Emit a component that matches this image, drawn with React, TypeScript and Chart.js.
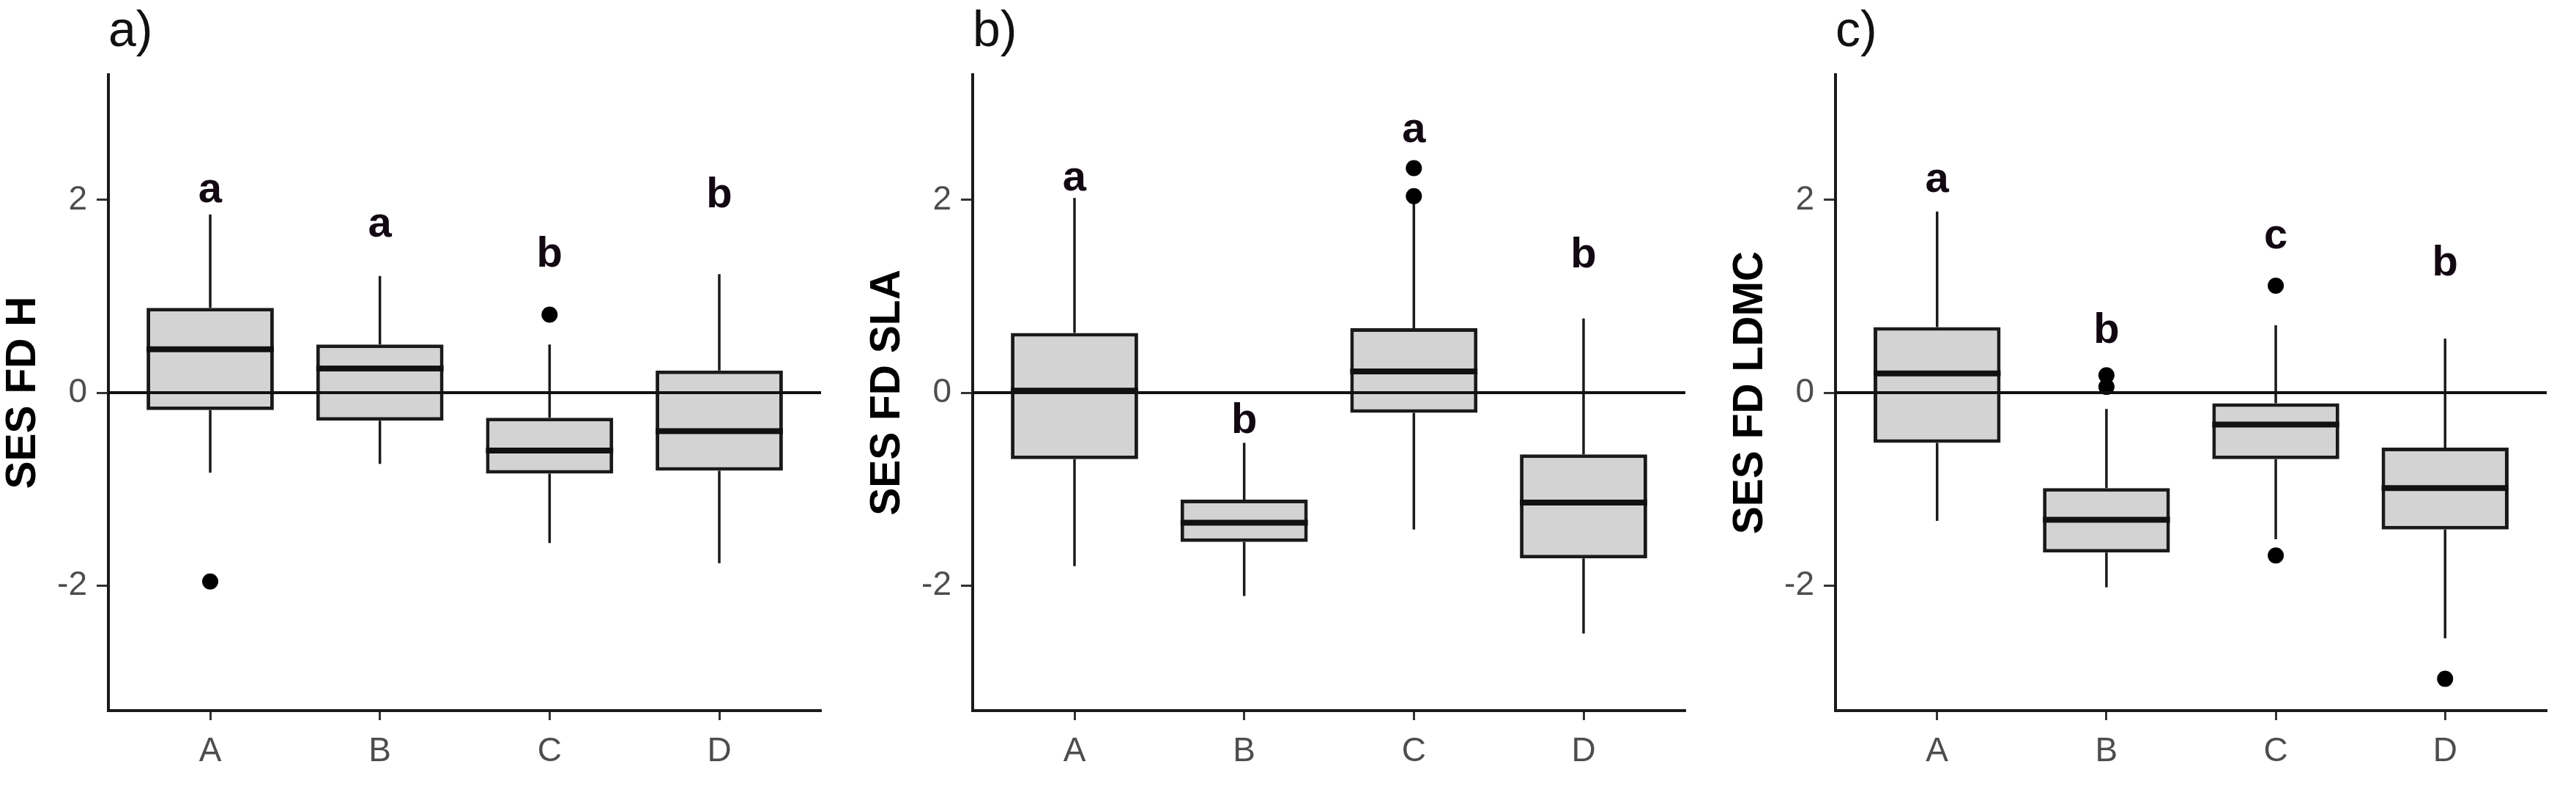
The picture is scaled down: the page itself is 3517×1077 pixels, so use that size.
import React, { useEffect, useRef } from 'react';
import { Chart, registerables } from 'chart.js';

Chart.register(...registerables);

// ---------- data ----------
const categories = ['A', 'B', 'C', 'D'];
const yTickValues = [-2, 0, 2];
const panelTitles = ['a)', 'b)', 'c)'];
const yAxisTitles = ['SES FD H', 'SES FD SLA', 'SES FD LDMC'];

// Panel a) SES FD H
const hWhiskerLow = [-0.83, -0.74, -1.56, -1.77];
const hQ1 = [-0.18, -0.29, -0.84, -0.81];
const hMedian = [0.45, 0.25, -0.6, -0.4];
const hQ3 = [0.88, 0.5, -0.26, 0.23];
const hWhiskerHigh = [1.85, 1.21, 0.5, 1.23];
const hOutlierGroup = ['A', 'C'];
const hOutlierValue = [-1.96, 0.81];
const hLetters = ['a', 'a', 'b', 'b'];
const hLetterY = [1.98, 1.62, 1.31, 1.92];

// Panel b) SES FD SLA
const slaWhiskerLow = [-1.8, -2.11, -1.42, -2.5];
const slaQ1 = [-0.69, -1.55, -0.21, -1.72];
const slaMedian = [0.02, -1.35, 0.22, -1.14];
const slaQ3 = [0.62, -1.11, 0.67, -0.64];
const slaWhiskerHigh = [2.02, -0.52, 1.98, 0.77];
const slaOutlierGroup = ['C', 'C'];
const slaOutlierValue = [2.33, 2.04];
const slaLetters = ['a', 'b', 'a', 'b'];
const slaLetterY = [2.1, -0.42, 2.6, 1.3];

// Panel c) SES FD LDMC
const ldmcWhiskerLow = [-1.33, -2.02, -1.52, -2.55];
const ldmcQ1 = [-0.52, -1.66, -0.69, -1.42];
const ldmcMedian = [0.2, -1.32, -0.33, -0.99];
const ldmcQ3 = [0.68, -0.99, -0.11, -0.57];
const ldmcWhiskerHigh = [1.88, -0.17, 0.7, 0.56];
const ldmcOutlierGroup = ['B', 'B', 'C', 'C', 'D'];
const ldmcOutlierValue = [0.18, 0.06, 1.11, -1.69, -2.97];
const ldmcLetters = ['a', 'b', 'c', 'b'];
const ldmcLetterY = [2.08, 0.52, 1.5, 1.22];

const panels = [
  { title: panelTitles[0], yTitle: yAxisTitles[0], lo: hWhiskerLow, q1: hQ1, med: hMedian, q3: hQ3, hi: hWhiskerHigh, og: hOutlierGroup, ov: hOutlierValue, letters: hLetters, letterY: hLetterY },
  { title: panelTitles[1], yTitle: yAxisTitles[1], lo: slaWhiskerLow, q1: slaQ1, med: slaMedian, q3: slaQ3, hi: slaWhiskerHigh, og: slaOutlierGroup, ov: slaOutlierValue, letters: slaLetters, letterY: slaLetterY },
  { title: panelTitles[2], yTitle: yAxisTitles[2], lo: ldmcWhiskerLow, q1: ldmcQ1, med: ldmcMedian, q3: ldmcQ3, hi: ldmcWhiskerHigh, og: ldmcOutlierGroup, ov: ldmcOutlierValue, letters: ldmcLetters, letterY: ldmcLetterY },
];

// ---------- layout ----------
const FONT = "'Liberation Sans', Arial, Helvetica, sans-serif";
const PAGE_W = 3517;
const PAGE_H = 1077;
const Y_AXIS_W = 148;
const X_AXIS_H = 107;
const PLOT_TOP = 102;
const RIGHT_PAD = 40;
const plotLefts = [148, 1328, 2506];
const plotWidths = [973, 973, 971];

function Panel({ spec, left, plotWidth }: any) {
  const ref = useRef<HTMLCanvasElement | null>(null);
  const width = Y_AXIS_W + plotWidth + RIGHT_PAD;

  useEffect(() => {
    const canvas = ref.current;
    if (!canvas) return;
    const idx = (g: string) => categories.indexOf(g) + 1;

    const extras = {
      id: 'boxExtras',
      beforeDatasetsDraw(chart: any) {
        const { ctx } = chart;
        const xs = chart.scales.x;
        const ys = chart.scales.y;
        ctx.save();
        ctx.strokeStyle = '#1a1a1a';
        ctx.lineWidth = 3.5;
        categories.forEach((_c, i) => {
          const x = xs.getPixelForValue(i + 1);
          ctx.beginPath();
          ctx.moveTo(x, ys.getPixelForValue(spec.q3[i]));
          ctx.lineTo(x, ys.getPixelForValue(spec.hi[i]));
          ctx.moveTo(x, ys.getPixelForValue(spec.q1[i]));
          ctx.lineTo(x, ys.getPixelForValue(spec.lo[i]));
          ctx.stroke();
        });
        ctx.restore();
      },
      afterDatasetsDraw(chart: any) {
        const { ctx, chartArea } = chart;
        const xs = chart.scales.x;
        const ys = chart.scales.y;
        const bars = chart.getDatasetMeta(0).data;
        ctx.save();
        // medians
        ctx.strokeStyle = '#111';
        ctx.lineWidth = 8;
        ctx.lineCap = 'butt';
        bars.forEach((el: any, i: number) => {
          const y = ys.getPixelForValue(spec.med[i]);
          ctx.beginPath();
          ctx.moveTo(el.x - el.width / 2, y);
          ctx.lineTo(el.x + el.width / 2, y);
          ctx.stroke();
        });
        // zero reference line
        const y0 = ys.getPixelForValue(0);
        ctx.strokeStyle = '#111';
        ctx.lineWidth = 4;
        ctx.beginPath();
        ctx.moveTo(chartArea.left, y0);
        ctx.lineTo(chartArea.right, y0);
        ctx.stroke();
        // significance letters
        ctx.fillStyle = '#120812';
        ctx.font = `bold 58px ${FONT}`;
        ctx.textAlign = 'center';
        ctx.textBaseline = 'alphabetic';
        categories.forEach((_c, i) => {
          ctx.fillText(spec.letters[i], xs.getPixelForValue(i + 1), ys.getPixelForValue(spec.letterY[i]));
        });
        ctx.restore();
      },
      afterDraw(chart: any) {
        const { ctx, chartArea } = chart;
        ctx.save();
        ctx.fillStyle = '#111';
        ctx.font = `68px ${FONT}`;
        ctx.textAlign = 'left';
        ctx.textBaseline = 'alphabetic';
        ctx.fillText(spec.title, chartArea.left, 63);
        ctx.restore();
      },
    };

    const chart = new Chart(canvas, {
      type: 'bar',
      data: {
        datasets: [
          {
            type: 'bar',
            data: categories.map((_c, i) => ({ x: i + 1, y: [spec.q1[i], spec.q3[i]] })),
            backgroundColor: '#d3d3d3',
            borderColor: '#1a1a1a',
            borderWidth: 5,
            borderSkipped: false,
            barPercentage: 0.75,
            categoryPercentage: 1,
          } as any,
          {
            type: 'scatter',
            data: spec.og.map((g: string, k: number) => ({ x: idx(g), y: spec.ov[k] })),
            pointRadius: 11,
            pointBackgroundColor: '#000',
            pointBorderWidth: 0,
            showLine: false,
          } as any,
        ],
      },
      options: {
        responsive: false,
        animation: false,
        events: [],
        layout: { padding: { top: PLOT_TOP, right: RIGHT_PAD, left: 0, bottom: 0 } },
        plugins: { legend: { display: false }, tooltip: { enabled: false }, title: { display: false } },
        scales: {
          x: {
            type: 'linear',
            min: 0.4,
            max: 4.6,
            offset: false,
            afterBuildTicks: (s: any) => {
              s.ticks = categories.map((_c, i) => ({ value: i + 1 }));
            },
            afterFit: (s: any) => {
              s.height = X_AXIS_H;
            },
            grid: {
              display: true,
              drawOnChartArea: false,
              drawTicks: true,
              tickLength: 13,
              tickWidth: 3,
              tickColor: '#333',
              offset: false,
            },
            border: { display: true, color: '#1a1a1a', width: 4 },
            ticks: {
              autoSkip: false,
              maxRotation: 0,
              padding: 16,
              color: '#4d4d4d',
              font: { family: FONT, size: 46 },
              callback: (v: any) => categories[Math.round(Number(v)) - 1] ?? '',
            },
          },
          y: {
            type: 'linear',
            min: -3.3,
            max: 3.3,
            afterBuildTicks: (s: any) => {
              s.ticks = yTickValues.map((v) => ({ value: v }));
            },
            afterFit: (s: any) => {
              s.width = Y_AXIS_W;
            },
            grid: {
              display: true,
              drawOnChartArea: false,
              drawTicks: true,
              tickLength: 16,
              tickWidth: 3,
              tickColor: '#333',
            },
            border: { display: true, color: '#1a1a1a', width: 4 },
            ticks: {
              padding: 13,
              color: '#4d4d4d',
              font: { family: FONT, size: 46 },
              callback: (v: any) => String(v),
            },
            title: {
              display: true,
              text: spec.yTitle,
              color: '#000',
              font: { family: FONT, size: 57, weight: 'bold', lineHeight: 1 },
              padding: { top: 4, bottom: 0 },
            },
          },
        },
      } as any,
      plugins: [extras],
    });
    return () => chart.destroy();
  }, [spec, plotWidth]);

  return (
    <canvas
      ref={ref}
      width={width}
      height={PAGE_H}
      style={{ position: 'absolute', left: left - Y_AXIS_W, top: 0, width, height: PAGE_H }}
    />
  );
}

export default function App() {
  return (
    <div
      style={{
        position: 'absolute',
        left: 0,
        top: 0,
        width: PAGE_W,
        height: PAGE_H,
        background: '#fff',
        overflow: 'hidden',
      }}
    >
      {panels.map((p, i) => (
        <Panel key={i} spec={p} left={plotLefts[i]} plotWidth={plotWidths[i]} />
      ))}
    </div>
  );
}
